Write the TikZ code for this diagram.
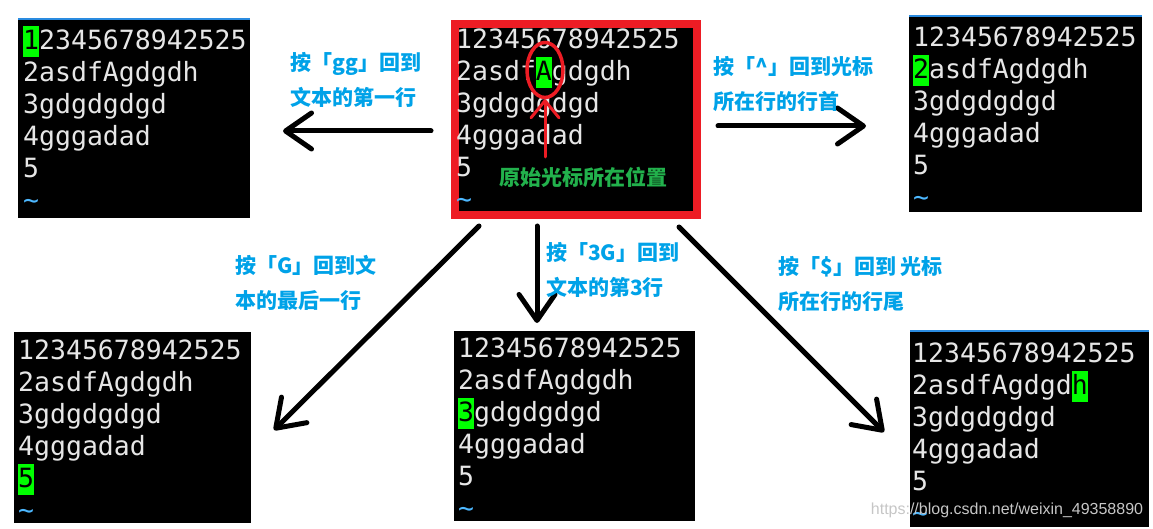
\documentclass[tikz,border=0pt]{standalone}
\usepackage{fontspec}
\setmainfont{DejaVu Sans}
\newfontfamily\termfont{DejaVu Sans Mono}
\newfontfamily\cjkfont{Noto Sans CJK SC}
\newfontfamily\markfont{Liberation Sans}
\usetikzlibrary{arrows.meta}
\usetikzlibrary{shapes.geometric}
\definecolor{termfg}{HTML}{E6E6E6}
\definecolor{cursor}{HTML}{00FF00}
\definecolor{tildeblue}{HTML}{4DB8FF}
\definecolor{labelblue}{HTML}{00A2E8}
\definecolor{labelgreen}{HTML}{22B14C}
\definecolor{framered}{HTML}{ED1C24}
\definecolor{lineblue}{HTML}{2A8BE0}
\newcommand{\cur}[1]{{\setlength{\fboxsep}{0pt}\colorbox{cursor}{\color{black}\rule[-8pt]{0pt}{31pt}#1}}}
\newcommand{\tld}{{\color{tildeblue}\textasciitilde}}
\newcommand{\ttop}{\rule{0pt}{24pt}}

\begin{document}
\begin{tikzpicture}[x=1pt,y=-1pt,
  term/.style={anchor=north west,fill=black,inner sep=0pt},
  termtext/.style={anchor=north west,inner sep=0pt,align=left,text=termfg,
    font=\termfont\fontsize{26.5}{32}\selectfont},
  note/.style={anchor=west,inner sep=0pt,align=left,text=labelblue,
    font=\cjkfont\bfseries\fontsize{21}{35}\selectfont},
  move/.style={line width=5pt,line cap=round,
    -{Straight Barb[length=26pt,width=36pt,round]}},
  topline/.style={draw=lineblue,line width=2pt}]
\useasboundingbox (0,0) rectangle (1153,529);
% terminal windows
\node (tl) [term,minimum width=232pt,minimum height=199pt] at (18,19) {};
\node (orig) [term,draw=framered,line width=8pt,minimum width=242pt,minimum height=191pt] at (451,20) {};
\node (tr) [term,minimum width=233pt,minimum height=196pt] at (909,16) {};
\node (bl) [term,minimum width=237pt,minimum height=191pt] at (14,332) {};
\node (bc) [term,minimum width=241pt,minimum height=190pt] at (454,331) {};
\node (br) [term,minimum width=239pt,minimum height=196pt] at (910,331) {};
\draw[topline] (tl.north west) -- (tl.north east);
\draw[topline] (tr.north west) -- (tr.north east);
\draw[topline] (br.north west) -- (br.north east);
% buffer text
\node (tl-text) [termtext] at (23,25) {\ttop\cur{1}2345678942525\\2asdfAgdgdh\\3gdgdgdgd\\4gggadad\\5\\\tld};
\node (orig-text) [termtext] at (456,24) {\ttop12345678942525\\2asdf\cur{A}gdgdh\\3gdgdgdgd\\4gggadad\\5\\\tld};
\node (tr-text) [termtext] at (913,22) {\ttop12345678942525\\\cur{2}asdfAgdgdh\\3gdgdgdgd\\4gggadad\\5\\\tld};
\node (bl-text) [termtext] at (18,335) {\ttop12345678942525\\2asdfAgdgdh\\3gdgdgdgd\\4gggadad\\\cur{5}\\\tld};
\node (bc-text) [termtext] at (458,333) {\ttop12345678942525\\2asdfAgdgdh\\\cur{3}gdgdgdgd\\4gggadad\\5\\\tld};
\node (br-text) [termtext] at (912,338) {\ttop12345678942525\\2asdfAgdgd\cur{h}\\3gdgdgdgd\\4gggadad\\5\\\tld};
% original cursor mark
\node (ring) [ellipse,draw=framered,line width=3.5pt,minimum width=36pt,minimum height=55pt,inner sep=0pt] at (545,70) {};
\coordinate (ring-from) at (545,157);
\draw[framered,line width=3pt,line cap=round,-{Straight Barb[length=17pt,width=28pt,round]}] (ring-from) -- (ring.south);
\node (orig-note) [note,text=labelgreen] at (499,177) {原始光标所在位置};
% moves
\coordinate (gg-from) at (431,131);
\coordinate (gg-to) at (283,131);
\coordinate (hat-from) at (718,126);
\coordinate (hat-to) at (866,126);
\coordinate (G-from) at (479,226);
\coordinate (G-to) at (274,430);
\coordinate (3G-from) at (537,226);
\coordinate (3G-to) at (537,323);
\coordinate (end-from) at (679,227);
\coordinate (end-to) at (884,432);
\draw[move] (gg-from) -- (gg-to);
\draw[move] (hat-from) -- (hat-to);
\draw[move] (G-from) -- (G-to);
\draw[move] (3G-from) -- (3G-to);
\draw[move] (end-from) -- (end-to);
\node (gg-note) [note] at (290,80) {按「gg」回到\\文本的第一行};
\node (hat-note) [note] at (713,84) {按「\textasciicircum」回到光标\\所在行的行首};
\node (G-note) [note] at (235,283) {按「G」回到文\\本的最后一行};
\node (3G-note) [note] at (546,270) {按「3G」回到\\文本的第3行};
\node (end-note) [note] at (778,284) {按「\$」回到 光标\\所在行的行尾};
\node (mark) [font=\markfont\fontsize{16}{16}\selectfont,text=gray!45,inner sep=0pt] at (1007,510) {https://blog.csdn.net/weixin\_49358890};
\end{tikzpicture}
\end{document}
